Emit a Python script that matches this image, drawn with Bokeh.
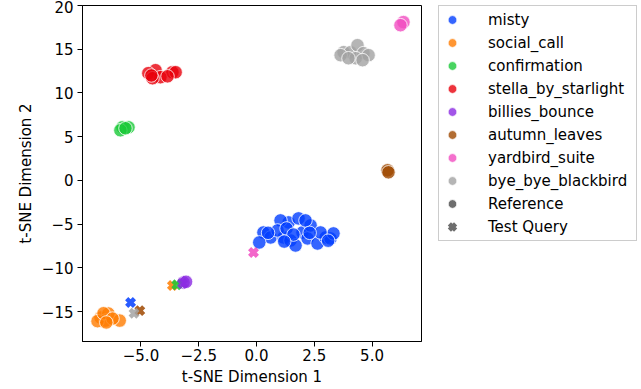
from bokeh.plotting import figure
from bokeh.layouts import row
from bokeh.models import Legend, LegendItem, FixedTicker, Range1d, CustomJSTickFormatter
from bokeh.embed import file_html
from bokeh.resources import INLINE

classes = ["misty", "social_call", "confirmation", "stella_by_starlight",
           "billies_bounce", "autumn_leaves", "yardbird_suite", "bye_bye_blackbird"]
colors = ["#023eff", "#ff7c00", "#1ac938", "#e8000b",
          "#8b2be2", "#9f4800", "#f14cc1", "#a3a3a3"]

misty_x = [0.30, 0.61, 1.17, 1.39, 1.82, 1.47, 1.99, 2.21, 2.34, 2.64, 2.99, 3.20, 3.33,
           1.04, 2.77, 0.12, 1.69, 0.91, 2.12, 1.30, 1.60, 0.50, 2.30, 3.10, 1.20]
misty_y = [-5.96, -6.53, -6.53, -4.81, -4.35, -6.87, -5.96, -6.64, -5.15, -7.22, -6.53, -6.64, -6.07,
           -4.58, -5.96, -7.10, -7.45, -5.73, -4.58, -5.50, -6.20, -6.00, -6.00, -6.90, -7.00]
social_x = [-6.75, -6.41, -6.54, -5.92, -6.88, -6.62, -6.23, -6.50]
social_y = [-15.69, -15.23, -16.04, -16.04, -16.10, -15.20, -15.81, -16.25]
confirm_x = [-5.80, -5.54, -5.89, -5.67]
confirm_y = [6.07, 6.07, 5.73, 5.96]
stella_x = [-4.37, -4.68, -3.64, -4.16, -4.50, -3.50, -3.85, -4.55]
stella_y = [12.60, 12.26, 12.37, 11.80, 11.68, 12.37, 11.90, 12.00]
billies_x = [-3.16, -3.05]
billies_y = [-11.68, -11.60]
autumn_x = [5.67, 5.71]
autumn_y = [1.15, 0.92]
yardbird_x = [6.36, 6.23]
yardbird_y = [18.10, 17.75]
byebye_x = [3.77, 4.07, 4.37, 4.63, 4.85, 3.64, 4.29, 4.59, 3.98]
byebye_y = [14.66, 14.66, 15.46, 14.55, 14.32, 14.32, 13.97, 13.75, 13.97]

query_class = ["misty", "social_call", "confirmation", "billies_bounce",
               "autumn_leaves", "yardbird_suite", "bye_bye_blackbird"]
query_x = [-5.45, -3.64, -3.45, -3.20, -5.05, -0.13, -5.30]
query_y = [-13.97, -12.03, -11.95, -11.80, -14.90, -8.25, -15.20]

x_ticks = [-5.0, -2.5, 0.0, 2.5, 5.0]
y_ticks = [-15, -10, -5, 0, 5, 10, 15, 20]

ref_xs = [misty_x, social_x, confirm_x, stella_x, billies_x, autumn_x, yardbird_x, byebye_x]
ref_ys = [misty_y, social_y, confirm_y, stella_y, billies_y, autumn_y, yardbird_y, byebye_y]

FONT = "DejaVu Sans"
FS = "15px"

p = figure(frame_width=339, frame_height=336, output_backend="svg", toolbar_location=None,
           x_range=Range1d(-7.53, 7.14), y_range=Range1d(-18.43, 20.0),
           min_border_left=82, min_border_right=1, min_border_top=5, min_border_bottom=0)
p.grid.visible = False
p.outline_line_color = "black"
p.outline_line_width = 1
p.outline_line_alpha = 1

for ax, ticks, lab, fmt in [(p.xaxis[0], x_ticks, "t-SNE Dimension 1", 1), (p.yaxis[0], y_ticks, "t-SNE Dimension 2", 0)]:
    ax.ticker = FixedTicker(ticks=ticks)
    ax.formatter = CustomJSTickFormatter(code="return (tick < 0 ? '\\u2212' : '') + Math.abs(tick).toFixed(%d);" % fmt)
    ax.axis_label = lab
    ax.axis_label_text_font = FONT
    ax.axis_label_text_font_size = FS
    ax.axis_label_text_font_style = "normal"
    ax.axis_label_text_color = "#000000"
    ax.major_label_text_font = FONT
    ax.major_label_text_font_size = FS
    ax.major_label_text_color = "#000000"
    ax.major_tick_out = 5
    ax.major_tick_in = 0
    ax.minor_tick_out = 0
    ax.minor_tick_in = 0
    ax.axis_line_color = "black"
    ax.major_tick_line_color = "black"
p.xaxis[0].major_label_standoff = 2
p.xaxis[0].axis_label_standoff = 4
p.yaxis[0].major_label_standoff = 4
p.yaxis[0].axis_label_standoff = 4

for cls, col, xs, ys in zip(classes, colors, ref_xs, ref_ys):
    p.scatter(xs, ys, marker="circle", size=13.5, fill_color=col, fill_alpha=0.8,
              line_color="white", line_alpha=0.8, line_width=1)

col_map = dict(zip(classes, colors))
for cls, qx, qy in zip(query_class, query_x, query_y):
    p.scatter([qx], [qy], marker="x", size=11, line_color=col_map[cls], line_width=4.5, line_alpha=0.85)

# legend panel (a second, axis-free figure next to the plot)
q = figure(width=216, height=380, output_backend="svg", toolbar_location=None,
           x_range=Range1d(0, 1), y_range=Range1d(0, 1),
           min_border_left=16, min_border_right=0, min_border_top=5, min_border_bottom=0)
q.axis.visible = False
q.grid.visible = False
q.outline_line_color = None

nan = float("nan")
items = []
for cls, col in zip(classes, colors):
    r = q.scatter([nan], [nan], marker="circle", size=13, fill_color=col, fill_alpha=0.8,
                  line_color="white", line_alpha=0.8, line_width=1)
    items.append(LegendItem(label=cls, renderers=[r]))
ref_dummy = q.scatter([nan], [nan], marker="circle", size=13, fill_color="#555555", fill_alpha=0.85,
                      line_color="white", line_width=1)
q_dummy = q.scatter([nan], [nan], marker="x", size=11, line_color="#555555", line_width=4.5, line_alpha=0.85)
items.append(LegendItem(label="Reference", renderers=[ref_dummy]))
items.append(LegendItem(label="Test Query", renderers=[q_dummy]))

legend = Legend(items=items, location="top_left", padding=2, spacing=0,
                glyph_width=22, glyph_height=23, label_height=20, label_standoff=25, label_width=146,
                label_text_font=FONT, label_text_font_size=FS, label_text_color="#000000",
                border_line_color="#cccccc", border_line_width=1, border_line_alpha=1,
                background_fill_color="white", background_fill_alpha=0.8, margin=0)
q.add_layout(legend, "center")

layout = row(p, q)
open("out.html", "w").write(file_html(layout, INLINE))
